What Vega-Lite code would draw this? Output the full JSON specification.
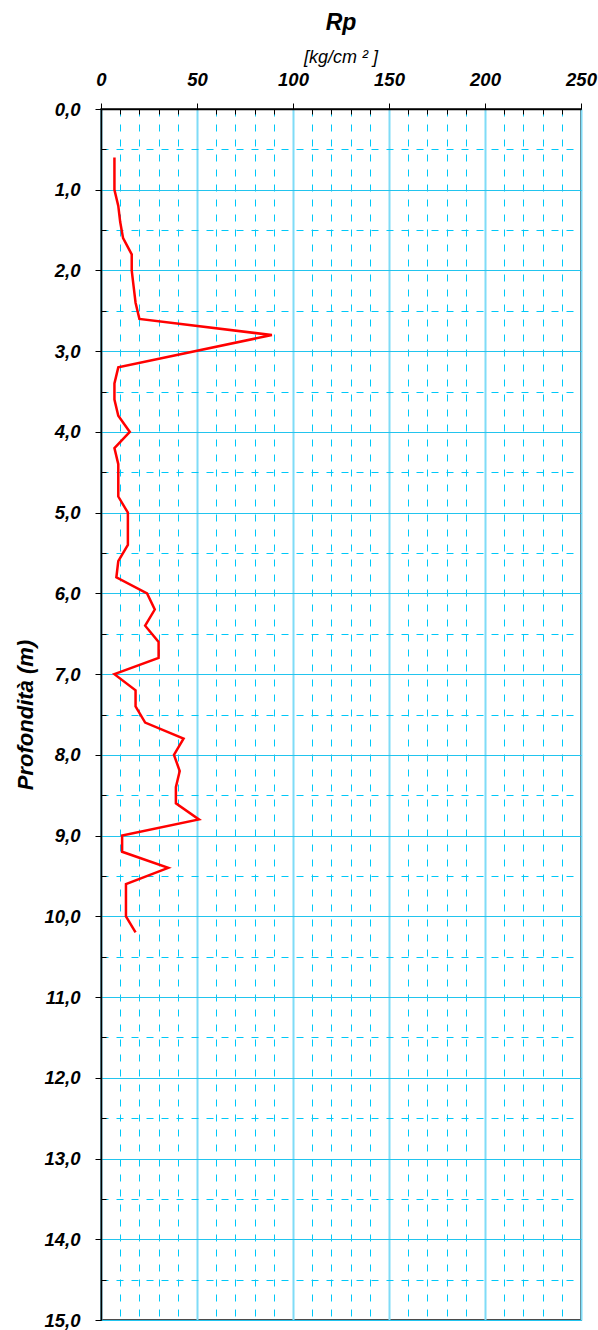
{
  "$schema": "https://vega.github.io/schema/vega-lite/v6.json",
  "width": 480,
  "height": 1211,
  "autosize": {"type": "none"},
  "padding": {"left": 101, "top": 109, "right": 17, "bottom": 10},
  "background": "white",
  "config": {
    "font": "Liberation Sans",
    "view": {"stroke": "#111111", "strokeWidth": 1.5}
  },
  "title": {
    "text": "Rp",
    "subtitle": "[kg/cm ² ]",
    "font": "Liberation Sans",
    "fontSize": 23,
    "fontWeight": "bold",
    "fontStyle": "italic",
    "subtitleFont": "Liberation Sans",
    "subtitleFontSize": 18,
    "subtitleFontStyle": "italic",
    "subtitleColor": "#000000",
    "subtitlePadding": 14,
    "color": "#000000",
    "anchor": "middle",
    "offset": 3
  },
  "data": {
    "values": [
      {"depth": 0.6, "Rp": 7},
      {"depth": 0.8, "Rp": 7},
      {"depth": 1.0, "Rp": 7},
      {"depth": 1.2, "Rp": 9},
      {"depth": 1.4, "Rp": 10},
      {"depth": 1.6, "Rp": 11.5},
      {"depth": 1.8, "Rp": 16},
      {"depth": 2.0, "Rp": 16},
      {"depth": 2.2, "Rp": 17},
      {"depth": 2.4, "Rp": 18},
      {"depth": 2.6, "Rp": 20},
      {"depth": 2.8, "Rp": 89},
      {"depth": 3.2, "Rp": 9},
      {"depth": 3.4, "Rp": 7},
      {"depth": 3.6, "Rp": 7},
      {"depth": 3.8, "Rp": 9},
      {"depth": 4.0, "Rp": 15},
      {"depth": 4.2, "Rp": 7},
      {"depth": 4.4, "Rp": 9},
      {"depth": 4.6, "Rp": 9},
      {"depth": 4.8, "Rp": 9},
      {"depth": 5.0, "Rp": 14},
      {"depth": 5.2, "Rp": 14},
      {"depth": 5.4, "Rp": 14},
      {"depth": 5.6, "Rp": 9},
      {"depth": 5.8, "Rp": 8},
      {"depth": 6.0, "Rp": 24},
      {"depth": 6.2, "Rp": 28},
      {"depth": 6.4, "Rp": 23},
      {"depth": 6.6, "Rp": 30},
      {"depth": 6.8, "Rp": 30},
      {"depth": 7.0, "Rp": 7},
      {"depth": 7.2, "Rp": 18},
      {"depth": 7.4, "Rp": 18},
      {"depth": 7.6, "Rp": 23},
      {"depth": 7.8, "Rp": 43},
      {"depth": 8.0, "Rp": 38},
      {"depth": 8.2, "Rp": 41},
      {"depth": 8.4, "Rp": 39},
      {"depth": 8.6, "Rp": 39},
      {"depth": 8.8, "Rp": 51},
      {"depth": 9.0, "Rp": 11},
      {"depth": 9.2, "Rp": 11},
      {"depth": 9.4, "Rp": 35},
      {"depth": 9.6, "Rp": 13},
      {"depth": 9.8, "Rp": 13},
      {"depth": 10.0, "Rp": 13},
      {"depth": 10.2, "Rp": 18}
    ]
  },
  "mark": {"type": "line", "color": "#ff0000", "strokeWidth": 2.5, "clip": true},
  "encoding": {
    "order": {"field": "depth", "type": "quantitative"},
    "x": {
      "field": "Rp",
      "type": "quantitative",
      "scale": {"domain": [0, 250], "nice": false, "zero": true},
      "axis": {
        "orient": "top",
        "title": null,
        "values": [0, 10, 20, 30, 40, 50, 60, 70, 80, 90, 100, 110, 120, 130, 140, 150, 160, 170, 180, 190, 200, 210, 220, 230, 240, 250],
        "labelExpr": "datum.value % 50 === 0 ? datum.label : ''",
        "labelFont": "Liberation Sans",
        "labelFontSize": 18.5,
        "labelFontWeight": "bold",
        "labelFontStyle": "italic",
        "labelColor": "#000000",
        "labelPadding": 14,
        "labelFlush": false,
        "labelOverlap": false,
        "domainColor": "#000000",
        "domainWidth": 1.5,
        "tickColor": "#000000",
        "tickWidth": 1,
        "tickSize": {"condition": {"test": "datum.value % 50 === 0", "value": 6}, "value": -5},
        "grid": true,
        "gridColor": {"condition": {"test": "datum.value % 50 === 0", "value": "#7fdcf7"}, "value": "#00c8f8"},
        "gridWidth": {"condition": {"test": "datum.value % 50 === 0", "value": 2}, "value": 1},
        "gridDash": {"condition": {"test": "datum.value % 50 !== 0", "value": [7, 8]}, "value": []},
        "gridOpacity": 1
      }
    },
    "y": {
      "field": "depth",
      "type": "quantitative",
      "scale": {"domain": [0, 15], "nice": false, "reverse": true},
      "axis": {
        "title": "Profondità (m)",
        "titleFont": "Liberation Sans",
        "titleFontSize": 22,
        "titleFontWeight": "bold",
        "titleFontStyle": "italic",
        "titleColor": "#000000",
        "titlePadding": 6,
        "values": [0, 0.5, 1, 1.5, 2, 2.5, 3, 3.5, 4, 4.5, 5, 5.5, 6, 6.5, 7, 7.5, 8, 8.5, 9, 9.5, 10, 10.5, 11, 11.5, 12, 12.5, 13, 13.5, 14, 14.5, 15],
        "labelExpr": "datum.value % 1 === 0 ? replace(format(datum.value, '.1f'), '.', ',') : ''",
        "labelFont": "Liberation Sans",
        "labelFontSize": 18.5,
        "labelFontWeight": "bold",
        "labelFontStyle": "italic",
        "labelColor": "#000000",
        "labelPadding": 15,
        "labelFlush": false,
        "labelOverlap": false,
        "domainColor": "#000000",
        "domainWidth": 1.5,
        "tickColor": "#000000",
        "tickWidth": 1,
        "tickSize": {"condition": {"test": "datum.value % 1 === 0", "value": 6}, "value": -5},
        "grid": true,
        "gridColor": {"condition": {"test": "datum.value % 1 === 0", "value": "#22c4ee"}, "value": "#00c8f8"},
        "gridWidth": 1,
        "gridDash": {"condition": {"test": "datum.value % 1 !== 0", "value": [7, 8]}, "value": []},
        "gridOpacity": 1
      }
    }
  }
}
